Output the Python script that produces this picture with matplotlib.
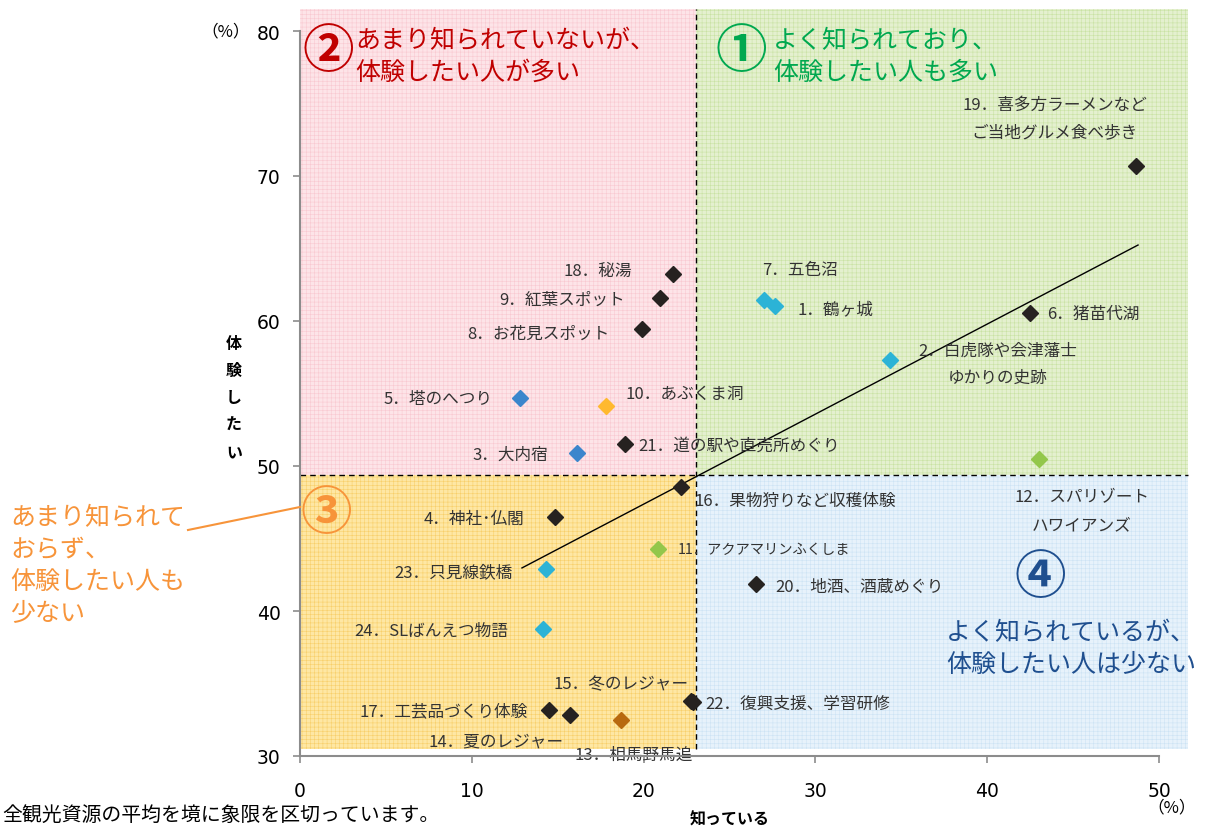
import matplotlib
matplotlib.use("Agg")
import matplotlib.pyplot as plt
import numpy as np

plt.rcParams['font.family'] = ['Noto Sans CJK JP', 'DejaVu Sans']
plt.rcParams['hatch.linewidth'] = 0.4

# 知っている (%), 体験したい (%)
labels = ["1．鶴ヶ城", "2．白虎隊や会津藩士\nゆかりの史跡", "3．大内宿", "4．神社･仏閣",
          "5．塔のへつり", "6．猪苗代湖", "7．五色沼", "8．お花見スポット",
          "9．紅葉スポット", "10．あぶくま洞", "11．アクアマリンふくしま",
          "12．スパリゾート\nハワイアンズ", "13．相馬野馬追", "14．夏のレジャー",
          "15．冬のレジャー", "16．果物狩りなど収穫体験", "17．工芸品づくり体験",
          "18．秘湯", "19．喜多方ラーメンなど\nご当地グルメ食べ歩き", "20．地酒、酒蔵めぐり",
          "21．道の駅や直売所めぐり", "22．復興支援、学習研修", "23．只見線鉄橋",
          "24．SLばんえつ物語"]
know = [27.65, 34.34, 16.12, 14.84, 12.8, 42.49, 27.0, 19.9, 20.95, 17.81, 20.84, 43.0,
        18.68, 15.72, 22.75, 22.18, 14.49, 21.71, 48.66, 26.54, 18.92, 22.85, 14.32, 14.14]
want = [61.03, 57.31, 50.9, 46.48, 54.7, 60.55, 61.45, 59.45, 61.59, 54.14, 44.28, 50.48,
        32.48, 32.83, 33.8, 48.55, 33.17, 63.24, 70.69, 41.86, 51.52, 33.72, 42.9, 38.76]
kinds = ["cyan", "cyan", "blue", "dark", "blue", "dark", "cyan", "dark", "dark", "orange",
         "green", "green", "brown", "dark", "dark", "dark", "dark", "dark", "dark", "dark",
         "dark", "dark", "cyan", "cyan"]
avg_know = 23.05
avg_want = 49.4
# linear trend line (start / end)
trend_x = [12.92, 48.78]
trend_y = [42.97, 65.24]

colors = {"cyan": "#2cb3d6", "blue": "#3b86cc", "dark": "#262220", "orange": "#ffb92e",
          "green": "#93c74b", "brown": "#b8690f"}

# label offsets in pixels and alignment
offsets = [(22, -3, 'left'), (108, -4, 'center'), (-29, -1, 'right'), (-31, -1, 'right'),
           (-27, -1, 'right'), (17, 0, 'left'), (-2, 30, 'left'), (-32, -4, 'right'),
           (-35, -1, 'right'), (20, 13, 'left'), (20, 0, 'left'), (43, -51.5, 'center'),
           (13, -34, 'center'), (-74, -26, 'center'), (-2, 17, 'right'), (13, -13, 'left'),
           (-21, -1, 'right'), (-41, 4, 'right'), (-81, 48, 'center'), (19, -2, 'left'),
           (13, -1, 'left'), (13, -1, 'left'), (-33, -3, 'right'), (-35, -1, 'right')]

fig = plt.figure(figsize=(12.16, 8.28), dpi=100)
ax = fig.add_axes([300/1216, 71/828, 859/1216, 725/828])
ax.set_xlim(0, 50)
ax.set_ylim(30, 80)

# quadrant backgrounds
x0, x1, y0, y1 = 0, 51.7, 30.5, 81.5
quads = [(x0, avg_want, avg_know - x0, y1 - avg_want, '#fde4e8', '#f9c9d1'),
         (avg_know, avg_want, x1 - avg_know, y1 - avg_want, '#e4f0cf', '#c9e2a3'),
         (x0, y0, avg_know - x0, avg_want - y0, '#fee7a4', '#f8cf6a'),
         (avg_know, y0, x1 - avg_know, avg_want - y0, '#e7f2fb', '#cde3f4')]
for qx, qy, qw, qh, fc, hc in quads:
    ax.add_patch(plt.Rectangle((qx, qy), qw, qh, facecolor=fc, edgecolor=hc,
                               hatch='++++', lw=0, clip_on=False, zorder=0))
ax.plot([avg_know, avg_know], [y0, y1], ls=(0, (4, 3)), color='black', lw=1,
        clip_on=False, zorder=1)
ax.plot([x0, x1], [avg_want, avg_want], ls=(0, (4, 3)), color='black', lw=1,
        clip_on=False, zorder=1)

ax.plot(trend_x, trend_y, color='black', lw=1, zorder=2)

for i in range(len(labels)):
    ax.plot(know[i], want[i], marker='D', ms=8, color=colors[kinds[i]],
            mec=colors[kinds[i]], ls='none', zorder=3)
    dx, dy, ha = offsets[i]
    fs = 10.3 if labels[i].startswith("11．") else 12
    ax.annotate(labels[i], (know[i], want[i]), xytext=(dx, dy), textcoords='offset pixels',
                ha=ha, va='center', fontsize=fs, color='#333333', linespacing=1.8,
                multialignment='center', zorder=4, annotation_clip=False)

# axes style
for s in ['top', 'right']:
    ax.spines[s].set_visible(False)
for s in ['left', 'bottom']:
    ax.spines[s].set_color('#8c8c8c')
    ax.spines[s].set_linewidth(1.5)
    ax.spines[s].set_zorder(5)
ax.set_xticks([0, 10, 20, 30, 40, 50])
ax.set_yticks([30, 40, 50, 60, 70, 80])
ax.tick_params(axis='x', length=5, width=1.2, color='#8c8c8c', pad=13, labelsize=13.5)
ax.tick_params(axis='y', length=5, width=1.2, color='#8c8c8c', pad=9, labelsize=13.5)
for t in ax.get_xticklabels() + ax.get_yticklabels():
    t.set_fontfamily('DejaVu Sans')

# axis titles
fig.text(234/1216, 1 - 398/828, "体\n験\nし\nた\nい", ha='center', va='center',
         fontsize=11.5, fontweight='bold', linespacing=1.85)
fig.text(730/1216, 1 - 820/828, "知っている", ha='center', va='center',
         fontsize=11.5, fontweight='bold')
fig.text(226/1216, 1 - 32/828, "（%）", ha='center', va='center', fontsize=12)
fig.text(1172/1216, 1 - 808/828, "（%）", ha='center', va='center', fontsize=12)
fig.text(2/1216, 1 - 815/828, "全観光資源の平均を境に象限を区切っています。",
         ha='left', va='center', fontsize=14.3)

# quadrant captions
circ = dict(fontsize=37, fontweight='bold', ha='center', va='center')
capt = dict(fontsize=18, ha='left', va='center', linespacing=1.25)
fig.text(328/1216, 1 - 52/828, "②", color='#c00000', **circ)
fig.text(355/1216, 1 - 57/828, "あまり知られていないが、\n体験したい人が多い", color='#c00000', **capt)
fig.text(741/1216, 1 - 52/828, "①", color='#00a84f', **circ)
fig.text(773/1216, 1 - 57/828, "よく知られており、\n体験したい人も多い", color='#00a84f', **capt)
fig.text(326/1216, 1 - 514/828, "③", color='#f7943a', **circ)
fig.text(10/1216, 1 - 566/828, "あまり知られて\nおらず、\n体験したい人も\n少ない", color='#f7943a',
         fontsize=18, ha='left', va='center', linespacing=1.3)
fig.add_artist(plt.Line2D([188/1216, 300/1216], [1 - 531/828, 1 - 508/828],
                          color='#f7943a', lw=1.5))
fig.text(1040/1216, 1 - 578/828, "④", color='#1f4f8f', **circ)
fig.text(946/1216, 1 - 649/828, "よく知られているが、\n体験したい人は少ない", color='#1f4f8f', **capt)

fig.savefig("out.png", dpi=100)
